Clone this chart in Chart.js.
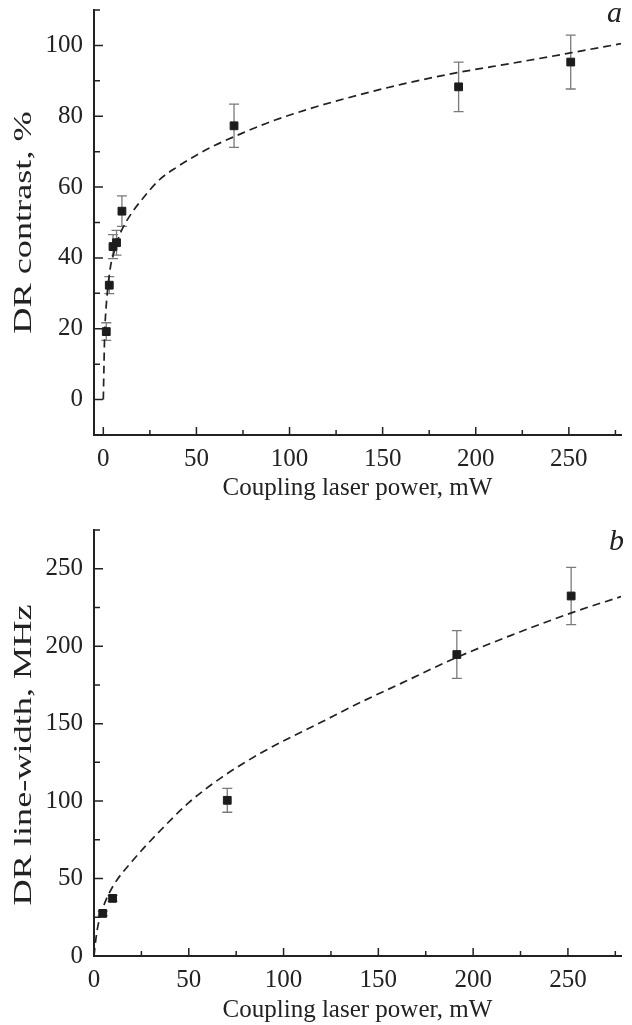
<!DOCTYPE html>
<html>
<head>
<meta charset="utf-8">
<script src="https://cdn.jsdelivr.net/npm/chart.js@4.4.0/dist/chart.umd.min.js"></script>
<style>
  body { margin: 0; background: #fff; }
  #wrap { position: relative; width: 632px; height: 1025px; }
  canvas { position: absolute; left: 0; }
  #chartA { top: 0; }
  #chartB { top: 510px; }
  .panel { position: absolute; font: italic 30px "Liberation Serif", serif; line-height: 30px; color: #222; }
</style>
</head>
<body>
<div id="wrap">
  <canvas id="chartA" width="632" height="510"></canvas>
  <canvas id="chartB" width="632" height="515"></canvas>
  <div class="panel" style="left:607px;top:-3px">a</div>
  <div class="panel" style="left:609px;top:525px">b</div>
</div>
<script>
// (a) DR contrast vs coupling laser power
const powerA      = [1.6, 3.2, 5.2, 7.1, 10, 70.2, 190.8, 251];
const contrast    = [19.2, 32.3, 43.2, 44.3, 53.2, 77.3, 88.3, 95.3];
const contrastErr = [2.5, 2.4, 3.4, 3.5, 4.3, 6.1, 7.0, 7.6];
const fitPowerA   = [0, 0.3, 0.7, 1.5, 2.5, 4, 6, 8, 10, 15, 20, 30, 40, 50, 60, 75, 90, 110, 130, 160, 190, 220, 250, 278];
const fitContrast = [0, 8, 18, 26, 32, 38, 42, 45.5, 48, 52.5, 56, 62, 65.8, 69, 71.8, 75.3, 78.5, 82, 85, 89, 92.3, 95, 97.8, 100.5];

// (b) DR line-width vs coupling laser power
const powerB    = [4.6, 9.8, 70.3, 191.4, 251.7];
const lineWidth = [27.5, 37.2, 100.5, 194.6, 232.4];
const widthErr  = [1.5, 2, 7.7, 15.4, 18.5];
const fitPowerB = [0, 1, 2, 5, 10, 20, 35, 50, 67, 88, 120, 141, 162, 190, 220, 253, 278];
const fitWidth  = [0, 11, 19, 32, 45, 61, 81, 99, 115, 131, 151, 164, 176, 192, 207, 222, 232];

// tick labels
const xTicks  = [0, 50, 100, 150, 200, 250];
const xMinor  = [25, 75, 125, 175, 225, 275];
const yTicksA = [0, 20, 40, 60, 80, 100];
const yMinorA = [10, 30, 50, 70, 90, 110];
const yTicksB = [0, 50, 100, 150, 200, 250];
const yMinorB = [25, 75, 125, 175, 225, 275];

const INK = '#222';
const serif = 'Liberation Serif';

const errorBars = {
  id: 'errorBars',
  beforeDatasetsDraw(chart, args, opts) {
    const meta = chart.getDatasetMeta(0);
    const ys = chart.scales.y;
    const ctx = chart.ctx;
    ctx.save();
    ctx.strokeStyle = '#7a7a7a';
    ctx.lineWidth = 1.3;
    meta.data.forEach((pt, i) => {
      const v = chart.data.datasets[0].data[i].y;
      const t = ys.getPixelForValue(v + opts.err[i]);
      const b = ys.getPixelForValue(v - opts.err[i]);
      ctx.beginPath();
      ctx.moveTo(pt.x, t); ctx.lineTo(pt.x, b);
      ctx.moveTo(pt.x - 5, t); ctx.lineTo(pt.x + 5, t);
      ctx.moveTo(pt.x - 5, b); ctx.lineTo(pt.x + 5, b);
      ctx.stroke();
    });
    ctx.restore();
  }
};

// tick marks point into the plot, like the original figure
const inwardTicks = {
  id: 'inwardTicks',
  afterDraw(chart, args, opts) {
    const {ctx, chartArea: a, scales: {x, y}} = chart;
    ctx.save();
    ctx.strokeStyle = INK;
    ctx.lineWidth = 1.5;
    ctx.beginPath();
    opts.xMajor.forEach(v => { const p = x.getPixelForValue(v); ctx.moveTo(p, a.bottom); ctx.lineTo(p, a.bottom - 8); });
    opts.xMinor.forEach(v => { const p = x.getPixelForValue(v); ctx.moveTo(p, a.bottom); ctx.lineTo(p, a.bottom - 5); });
    opts.yMajor.forEach(v => { const p = y.getPixelForValue(v); ctx.moveTo(a.left, p); ctx.lineTo(a.left + 9, p); });
    opts.yMinor.forEach(v => { const p = y.getPixelForValue(v); ctx.moveTo(a.left, p); ctx.lineTo(a.left + 6, p); });
    ctx.stroke();
    ctx.restore();
  }
};

// the y titles in the original are set in a stretched face
const stretchedTitle = {
  id: 'stretchedTitle',
  beforeDraw(chart, args, opts) {
    const s = chart.scales.y;
    if (s._stretched) return;
    const draw = s.drawTitle.bind(s);
    s.drawTitle = function () {
      const c = this.ctx;
      const cx = this.left + 24, cy = (this.top + this.bottom) / 2;
      c.save();
      c.translate(cx, cy + opts.shift);
      c.scale(1, 1.45);
      c.translate(-cx, -cy);
      draw();
      c.restore();
    };
    s._stretched = true;
  }
};

function makeChart(id, o) {
  return new Chart(document.getElementById(id), {
    type: 'scatter',
    data: {
      datasets: [
        {
          data: o.px.map((v, i) => ({x: v, y: o.py[i]})),
          pointStyle: 'rect',
          pointRadius: 5.5,
          pointBorderWidth: 1,
          backgroundColor: '#1c1c1c',
          borderColor: '#1c1c1c'
        },
        {
          data: o.fx.map((v, i) => ({x: v, y: o.fy[i]})),
          showLine: true,
          pointRadius: 0,
          borderColor: INK,
          borderWidth: 1.7,
          borderDash: [8, 5],
          cubicInterpolationMode: 'monotone'
        }
      ]
    },
    options: {
      responsive: false,
      animation: false,
      layout: { padding: { top: o.top, right: 11, left: 0, bottom: 0 } },
      plugins: {
        legend: { display: false },
        tooltip: { enabled: false },
        errorBars: { err: o.err },
        inwardTicks: { xMajor: xTicks, xMinor: xMinor, yMajor: o.yTicks, yMinor: o.yMinor },
        stretchedTitle: { shift: o.titleShift }
      },
      scales: {
        x: {
          type: 'linear',
          min: o.xMin,
          max: 278,
          afterFit: s => { s.height = o.xHeight; s.paddingLeft = 0; s.paddingRight = 0; },
          afterBuildTicks: s => { s.ticks = xTicks.map(v => ({value: v})); },
          grid: { display: false, drawTicks: false },
          border: { display: true, color: INK, width: 2 },
          ticks: { color: INK, padding: 9, font: { family: serif, size: 25 } },
          title: {
            display: true,
            text: 'Coupling laser power, mW',
            color: INK,
            font: { family: serif, size: 25 },
            padding: { top: 0, bottom: o.titlePad }
          }
        },
        y: {
          type: 'linear',
          min: o.yMin,
          max: o.yMax,
          afterFit: s => { s.width = 94; s.paddingTop = 0; s.paddingBottom = 0; },
          afterBuildTicks: s => { s.ticks = o.yTicks.map(v => ({value: v})); },
          grid: { display: false, drawTicks: false },
          border: { display: true, color: INK, width: 2 },
          ticks: { color: INK, padding: 11, font: { family: serif, size: 25 } },
          title: {
            display: true,
            text: o.yTitle,
            color: INK,
            font: { family: serif, size: 25 },
            padding: { top: 9, bottom: 0 }
          }
        }
      }
    },
    plugins: [errorBars, inwardTicks, stretchedTitle]
  });
}

makeChart('chartA', {
  px: powerA, py: contrast, err: contrastErr, fx: fitPowerA, fy: fitContrast,
  xMin: -5, yMin: -10, yMax: 110, yTicks: yTicksA, yMinor: yMinorA,
  top: 10, xHeight: 75, titlePad: 7, titleShift: 0, yTitle: 'DR contrast, %'
});

makeChart('chartB', {
  px: powerB, py: lineWidth, err: widthErr, fx: fitPowerB, fy: fitWidth,
  xMin: 0, yMin: 0, yMax: 275, yTicks: yTicksB, yMinor: yMinorB,
  top: 20, xHeight: 69, titlePad: 0, titleShift: 12, yTitle: 'DR line-width, MHz'
});
</script>
</body>
</html>
